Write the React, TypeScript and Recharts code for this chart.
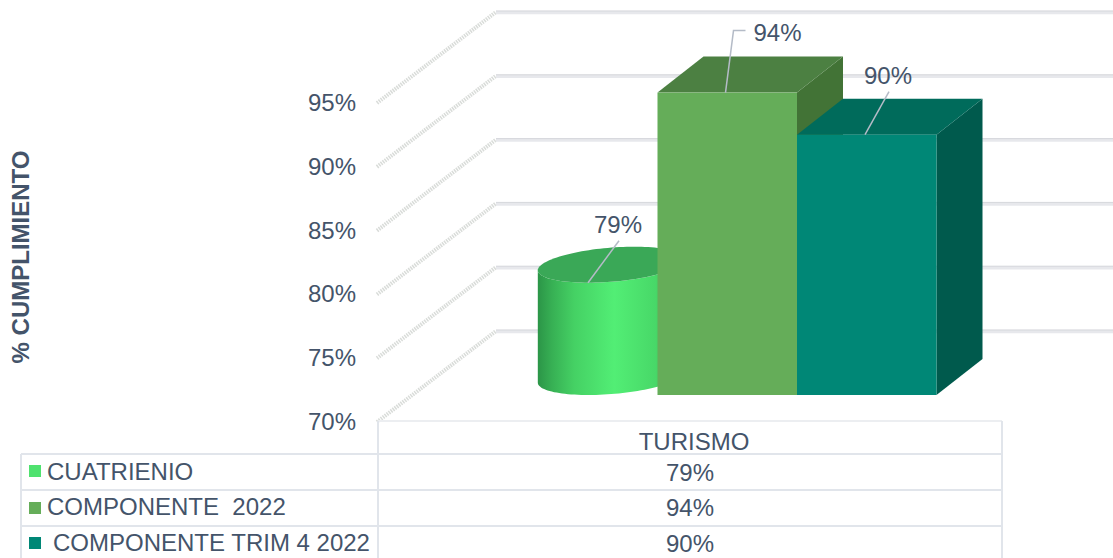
import React from 'react';
import { ComposedChart, Bar, XAxis, YAxis, CartesianGrid } from 'recharts';

const categories = ['TURISMO'];
const seriesNames = ['CUATRIENIO', 'COMPONENTE  2022', 'COMPONENTE TRIM 4 2022'];
const cuatrienio = [78.8];
const componente2022 = [93.7];
const componenteTrim4 = [90.4];
const yTicks = [70, 75, 80, 85, 90, 95];

const INK = '#44546a';
const FONT = '"Liberation Sans", Arial, sans-serif';
const TABLE = '#e1e5eb';
const LEADER = '#b4bbc7';
const W = 1113;
const H = 558;

// oblique projection: bars stand part-way into the floor
const OFF_X = 37;
const OFF_Y = -26;
const DEPTH_X = 46;
const DEPTH_Y = -36;
const WALL_X = 118;
const WALL_Y = -90;

const data = categories.map((name, i) => ({
  name,
  cuatrienio: cuatrienio[i],
  componente2022: componente2022[i],
  componenteTrim4: componenteTrim4[i],
}));

const pct = (v: number) => `${Math.round(v)}%`;

function Callout({ points, tx, ty, value }: any) {
  return (
    <g>
      <polyline points={points.map((p: number[]) => p.join(',')).join(' ')} fill="none" stroke={LEADER} strokeWidth={1.5} />
      <text x={tx} y={ty} textAnchor="middle" fontFamily={FONT} fontSize={24} fill={INK}>{value}</text>
    </g>
  );
}

function Box3D(props: any) {
  const { x, y, width, height, colors, value, callout } = props;
  const l = x + OFF_X;
  const r = l + width;
  const t = y + OFF_Y;
  const b = t + height;
  const topFace = `${l},${t} ${l + DEPTH_X},${t + DEPTH_Y} ${r + DEPTH_X},${t + DEPTH_Y} ${r},${t}`;
  const sideFace = `${r},${t} ${r + DEPTH_X},${t + DEPTH_Y} ${r + DEPTH_X},${b + DEPTH_Y} ${r},${b}`;
  const v = Array.isArray(value) ? value[1] : value;
  return (
    <g>
      <polygon points={sideFace} fill={colors.side} />
      <polygon points={topFace} fill={colors.top} />
      <rect x={l} y={t} width={width} height={height} fill={colors.front} />
      <Callout
        value={pct(v)}
        points={callout.leader.map((p: number[]) => [l + p[0], t + p[1]])}
        tx={l + callout.text[0]}
        ty={t + callout.text[1]}
      />
    </g>
  );
}

function Cylinder3D(props: any) {
  const { x, y, width, height, value, callout } = props;
  const l = x + OFF_X;
  const t = y + OFF_Y;
  const b = t + height;
  const a = width / 2;
  const cx = l + a + DEPTH_X / 2 + 0.5;
  const pt = (cy: number, d: number) => {
    const s = (d * Math.PI) / 180;
    return [cx + a * Math.cos(s) + (DEPTH_X / 2) * Math.sin(s), cy + (DEPTH_Y / 2) * Math.sin(s)];
  };
  const cyTop = t + DEPTH_Y / 2;
  const cyBot = b + DEPTH_Y / 2;
  const start = -161.8;
  const lower: number[][] = [];
  const upper: number[][] = [];
  for (let d = 0; d <= 180; d += 3) {
    lower.push(pt(cyBot, start + d));
    upper.unshift(pt(cyTop, start + d));
  }
  const body = [...lower, ...upper].map((p) => p.join(',')).join(' ');
  const cap: number[][] = [];
  for (let d = 0; d < 360; d += 3) cap.push(pt(cyTop, d));
  const v = Array.isArray(value) ? value[1] : value;
  return (
    <g>
      <defs>
        <linearGradient id="cyl" gradientUnits="userSpaceOnUse" x1={cx - 74} x2={cx + 74} y1={0} y2={0}>
          <stop offset="0" stopColor="#2b9447" />
          <stop offset="0.1" stopColor="#37b054" />
          <stop offset="0.25" stopColor="#45d164" />
          <stop offset="0.52" stopColor="#52ee75" />
          <stop offset="0.8" stopColor="#48d868" />
          <stop offset="1" stopColor="#2f9a4b" />
        </linearGradient>
      </defs>
      <polygon points={body} fill="url(#cyl)" />
      <polygon points={cap.map((p) => p.join(',')).join(' ')} fill="#3aa857" />
      <Callout
        value={pct(v)}
        points={callout.leader.map((p: number[]) => [l + p[0], t + p[1]])}
        tx={l + callout.text[0]}
        ty={t + callout.text[1]}
      />
    </g>
  );
}

function WallLine(props: any) {
  const { x1, y1 } = props;
  const backX = x1 + WALL_X;
  const backY = y1 + WALL_Y;
  return (
    <g key={props.key}>
      <line x1={x1 - 1} y1={y1 + 1} x2={backX} y2={backY} stroke="#d9dcd9" strokeWidth={4} strokeDasharray="1.5 1" />
      <line x1={backX} y1={backY + 0.5} x2={W} y2={backY + 0.5} stroke="#e7e8ec" strokeWidth={3.5} />
      <line x1={backX} y1={backY - 1} x2={W} y2={backY - 1} stroke="#d6d7dc" strokeWidth={1} />
    </g>
  );
}

const boxGreen = { front: '#65ad59', top: '#4c8042', side: '#427336' };
const boxTeal = { front: '#008776', top: '#006b5b', side: '#005a4d' };
const swatches = ['#4fe26f', '#65ad59', '#008776'];
const seriesValues = [cuatrienio, componente2022, componenteTrim4];

function DataTable() {
  const rowTops = [454, 490, 526];
  const labelX = [47, 47, 53];
  const swatchY = [465, 502, 537];
  const baseY = [480, 515, 551];
  return (
    <svg width={W} height={H} style={{ position: 'absolute', left: 0, top: 0, pointerEvents: 'none' }}>
      <g stroke={TABLE} strokeWidth={2}>
        <line x1={378} y1={421} x2={378} y2={H} />
        <line x1={1002} y1={421} x2={1002} y2={H} />
        <line x1={21} y1={454} x2={21} y2={H} />
        {rowTops.map((y) => <line key={y} x1={21} y1={y} x2={1002} y2={y} />)}
      </g>
      {seriesNames.map((name, i) => (
        <g key={name} fontFamily={FONT} fontSize={24} fill={INK}>
          <rect x={29} y={swatchY[i]} width={12} height={12} fill={swatches[i]} />
          <text x={labelX[i]} y={baseY[i]} style={{ whiteSpace: 'pre' }}>{name}</text>
          <text x={690} y={baseY[i] + 1} textAnchor="middle">{pct(seriesValues[i][0])}</text>
        </g>
      ))}
    </svg>
  );
}

export default function App() {
  return (
    <div style={{ position: 'absolute', left: 0, top: 0, width: W, height: H, background: '#fff', overflow: 'hidden' }}>
      <ComposedChart
        width={W}
        height={H}
        data={data}
        barGap={0}
        barSize={139.5}
        margin={{ top: 102, right: 111, bottom: 107, left: 0 }}
      >
        <CartesianGrid vertical={false} horizontal={(p: any) => <WallLine {...p} />} />
        <XAxis
          dataKey="name"
          height={30}
          tickLine={false}
          axisLine={{ stroke: '#eceef1', strokeWidth: 2 }}
          tick={({ x, y, payload }: any) => (
            <text x={x + 4} y={y + 21} textAnchor="middle" fontFamily={FONT} fontSize={24} fill={INK}>{payload.value}</text>
          )}
        />
        <YAxis
          width={378}
          domain={[70, 95]}
          ticks={yTicks}
          interval={0}
          axisLine={false}
          tickLine={false}
          tick={({ y, payload }: any) => (
            <text x={356} y={y + 9} textAnchor="end" fontFamily={FONT} fontSize={24} fill={INK}>{`${payload.value}%`}</text>
          )}
          label={{
            content: () => (
              <text
                x={0}
                y={0}
                transform="translate(29 257) rotate(-90)"
                textAnchor="middle"
                fontFamily={FONT}
                fontSize={24}
                fontWeight="bold"
                fill={INK}
              >
                % CUMPLIMIENTO
              </text>
            ),
          }}
        />
        <Bar
          dataKey="cuatrienio"
          isAnimationActive={false}
          shape={(p: any) => <Cylinder3D {...p} callout={{ leader: [[70, 0], [101, -42]], text: [100, -50] }} />}
        />
        <Bar
          dataKey="componente2022"
          isAnimationActive={false}
          shape={(p: any) => <Box3D {...p} colors={boxGreen} callout={{ leader: [[68, 0], [76, -62], [88, -62]], text: [120, -52] }} />}
        />
        <Bar
          dataKey="componenteTrim4"
          isAnimationActive={false}
          shape={(p: any) => <Box3D {...p} colors={boxTeal} callout={{ leader: [[68, 0], [92, -43]], text: [91, -51] }} />}
        />
      </ComposedChart>
      <DataTable />
    </div>
  );
}
